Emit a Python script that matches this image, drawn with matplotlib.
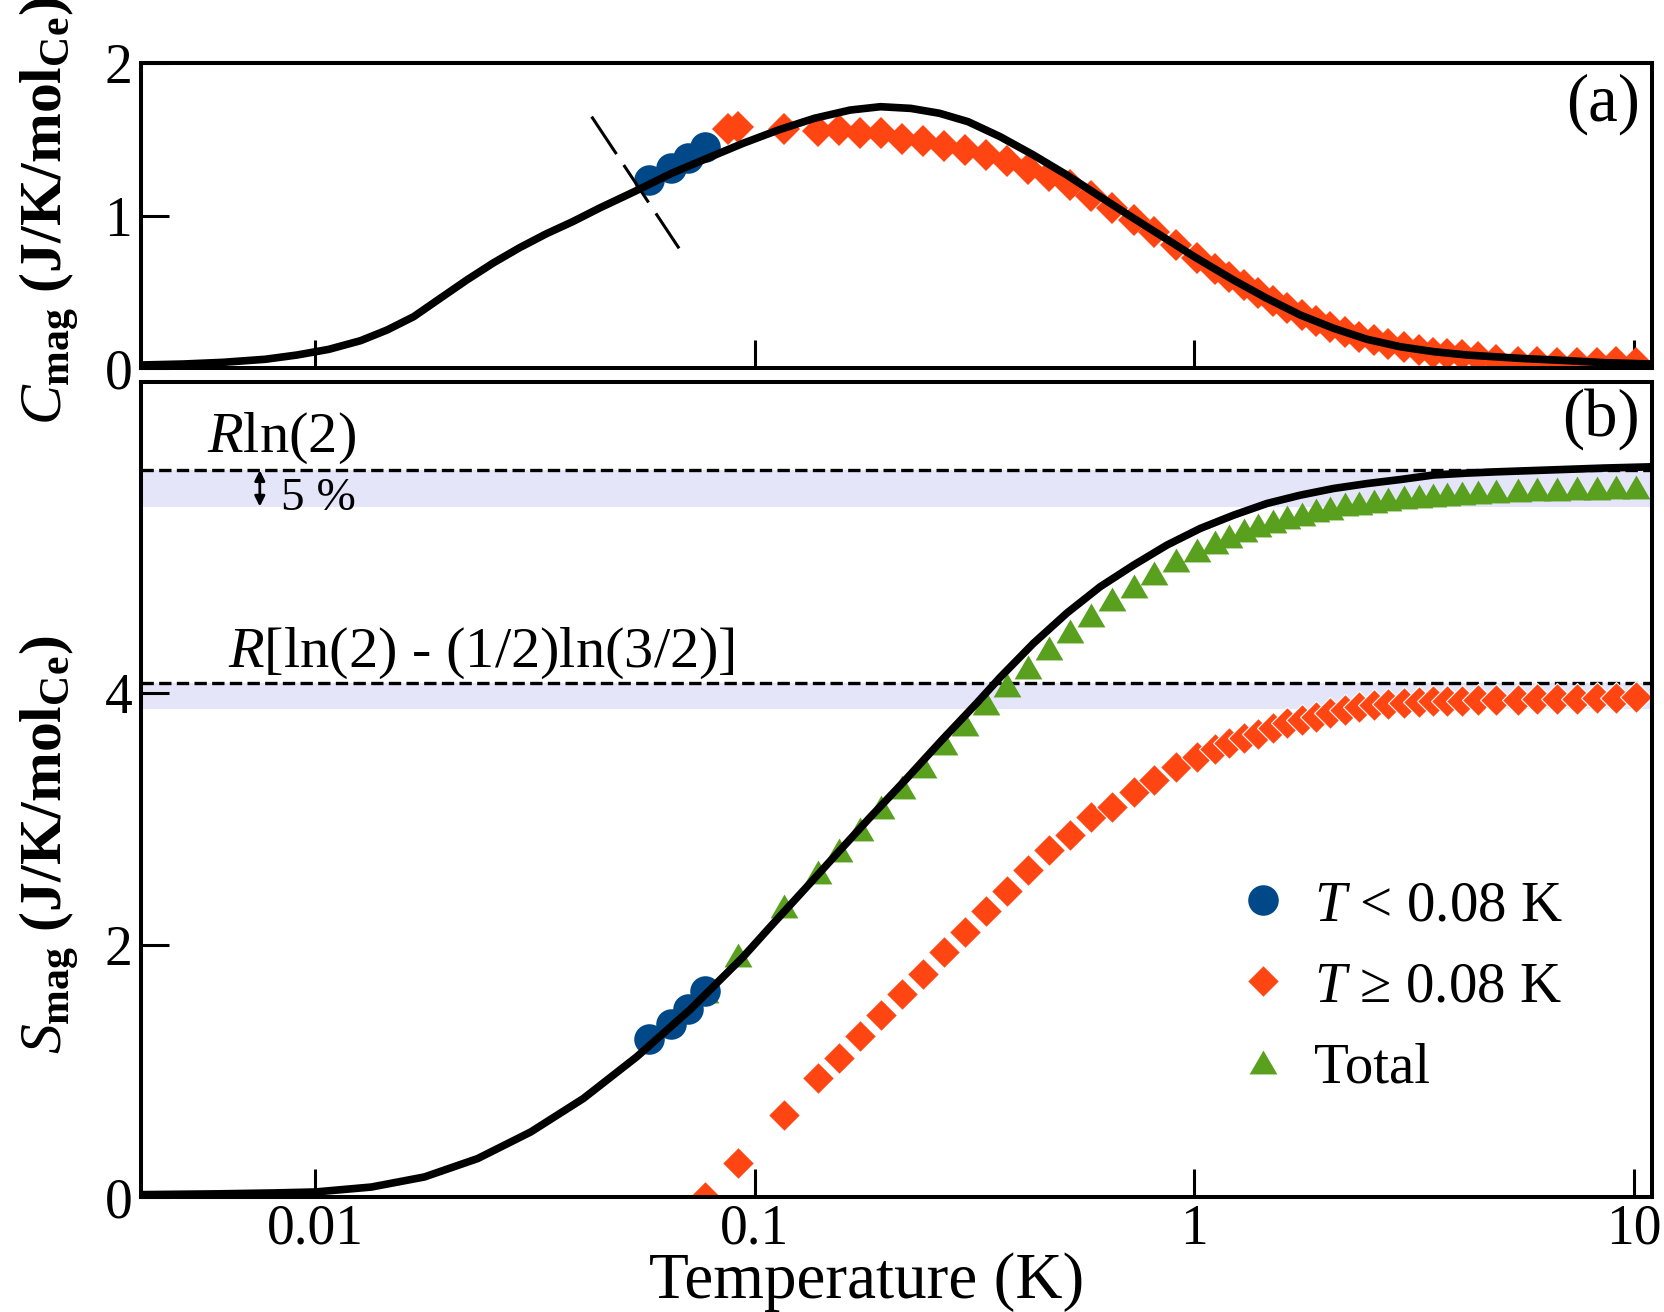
import numpy as np
import matplotlib
matplotlib.use("Agg")
import matplotlib.pyplot as plt
from matplotlib.ticker import NullLocator

plt.rcParams['font.family'] = ['Liberation Serif', 'DejaVu Serif']
plt.rcParams['mathtext.fontset'] = 'custom'
plt.rcParams['mathtext.rm'] = 'Liberation Serif'
plt.rcParams['mathtext.it'] = 'Liberation Serif:italic'
plt.rcParams['mathtext.bf'] = 'Liberation Serif:bold'

# T < 0.08 K points
T_low = [0.0575, 0.0643, 0.0706, 0.0771]
C_low = [1.232, 1.309, 1.374, 1.450]
S_low = [1.25, 1.37, 1.49, 1.63]

# T >= 0.08 K points (shared temperature grid)
T_hi = [0.0913, 0.1165, 0.139, 0.155, 0.173, 0.1936, 0.216, 0.2415, 0.269, 0.3007,
        0.336, 0.3745, 0.418, 0.466, 0.521, 0.583, 0.651, 0.727, 0.81, 0.906,
        1.012, 1.112, 1.199, 1.297, 1.399, 1.509, 1.627, 1.754, 1.892, 2.040,
        2.199, 2.372, 2.558, 2.759, 3.004, 3.238, 3.491, 3.765, 4.059, 4.420,
        4.857, 5.440, 6.032, 6.689, 7.422, 8.233, 9.130, 10.13]
C_hi = [1.577, 1.568, 1.555, 1.559, 1.542, 1.538, 1.503, 1.486, 1.455, 1.427,
        1.396, 1.355, 1.306, 1.259, 1.202, 1.128, 1.047, 0.968, 0.890, 0.807,
        0.720, 0.650, 0.600, 0.545, 0.491, 0.442, 0.393, 0.349, 0.312, 0.272,
        0.236, 0.207, 0.185, 0.159, 0.137, 0.120, 0.102, 0.092, 0.087, 0.072,
        0.054, 0.043, 0.039, 0.037, 0.033, 0.033, 0.039, 0.033]
S_hi = [0.27, 0.65, 0.94, 1.10, 1.28, 1.44, 1.61, 1.77, 1.94, 2.10,
        2.27, 2.43, 2.59, 2.75, 2.87, 3.01, 3.094, 3.213, 3.306, 3.411,
        3.491, 3.556, 3.596, 3.636, 3.675, 3.715, 3.755, 3.781, 3.808, 3.834,
        3.861, 3.887, 3.900, 3.913, 3.921, 3.926, 3.931, 3.931, 3.934, 3.937,
        3.94, 3.942, 3.945, 3.948, 3.95, 3.955, 3.96, 3.965]
S_tot = [1.92, 2.31, 2.58, 2.75, 2.92, 3.09, 3.25, 3.42, 3.60, 3.75,
         3.92, 4.06, 4.20, 4.35, 4.49, 4.616, 4.740, 4.848, 4.951, 5.049,
         5.133, 5.197, 5.242, 5.287, 5.329, 5.363, 5.395, 5.418, 5.448, 5.466,
         5.493, 5.506, 5.522, 5.538, 5.549, 5.559, 5.569, 5.577, 5.585, 5.591,
         5.599, 5.609, 5.612, 5.616, 5.62, 5.625, 5.628, 5.63]

# extra first points
T_c0, C_c0 = 0.087, 1.565
T_s0, S_hi0, S_tot0 = 0.0771, 0.0, 1.63

# model curves
T_fitC = [0.00406, 0.0050, 0.00615, 0.00768, 0.00908, 0.01072, 0.01267, 0.01456,
          0.01673, 0.01922, 0.0221, 0.0254, 0.02917, 0.0335, 0.0385, 0.0444,
          0.0535, 0.0646, 0.0778, 0.0939, 0.1132, 0.1365, 0.1646, 0.1931,
          0.2263, 0.263, 0.3055, 0.3613, 0.4302, 0.5126, 0.6104, 0.7269,
          0.8658, 1.0, 1.227, 1.462, 1.741, 2.073, 2.47, 2.941, 3.502, 4.172,
          5.515, 7.08, 8.55, 11.0]
C_fit = [0.022, 0.028, 0.039, 0.059, 0.087, 0.124, 0.181, 0.251,
         0.338, 0.458, 0.578, 0.690, 0.790, 0.880, 0.960, 1.050,
         1.160, 1.276, 1.374, 1.472, 1.560, 1.636, 1.690, 1.712,
         1.701, 1.669, 1.614, 1.516, 1.396, 1.265, 1.123, 0.982,
         0.844, 0.730, 0.578, 0.458, 0.349, 0.262, 0.190, 0.141, 0.109, 0.087,
         0.065, 0.050, 0.037, 0.028]
T_fitS = [0.00406, 0.006, 0.008, 0.0100, 0.0134, 0.0177, 0.0234, 0.0309,
          0.0407, 0.0538, 0.0710, 0.0938, 0.1082, 0.1305, 0.1516, 0.1828,
          0.2204, 0.2658, 0.3205, 0.3613, 0.4302, 0.5126, 0.6104, 0.7269,
          0.8658, 1.031, 1.227, 1.462, 1.741, 2.073, 2.47, 2.941, 3.502,
          4.172, 4.857, 5.866, 7.08, 8.55, 11.0]
S_fit = [0.019, 0.025, 0.032, 0.040, 0.079, 0.159, 0.305, 0.516,
         0.781, 1.111, 1.482, 1.90, 2.14, 2.45, 2.70, 3.01,
         3.31, 3.62, 3.92, 4.12, 4.39, 4.630, 4.839, 5.010,
         5.169, 5.301, 5.406, 5.499, 5.565, 5.618, 5.657, 5.689, 5.725,
         5.74, 5.75, 5.76, 5.77, 5.78, 5.79]

# dashed marker segment in panel (a)
T_cut = [0.0425, 0.0672]
C_cut = [1.647, 0.785]

R = 8.314
S_rln2 = R * np.log(2)
S_half = R * (np.log(2) - 0.5 * np.log(1.5))

blue = '#004887'
orange = '#ff4512'
green = '#58a01e'
band = '#e5e5fa'
tri = [(0, 0.86), (-1, -0.86), (1, -0.86), (0, 0.86)]

fig = plt.figure(figsize=(16.64, 13.12), dpi=100)
ax1 = fig.add_axes([0.0845, 0.71928, 0.9083, 0.23293])
ax2 = fig.add_axes([0.0845, 0.08765, 0.9083, 0.62096])

# panel (a)
ax1.plot(np.r_[T_c0, T_hi], np.r_[C_c0, C_hi], ls='none', marker='D', ms=15.8,
         color=orange, mew=0, zorder=2)
ax1.plot(T_low, C_low, ls='none', marker='o', ms=22, color=blue, mew=0, zorder=3)
ax1.plot(T_fitC, C_fit, color='k', lw=5.5, solid_joinstyle='round', zorder=4)
ax1.plot(T_cut, C_cut, color='k', lw=2.2, dashes=(14.7, 4.3), zorder=4)
ax1.set_ylim(0, 2)
ax1.set_yticks([0, 1, 2])
ax1.set_yticklabels(['0', '1', '2'])
ax1.text(0.992, 0.865, '(a)', transform=ax1.transAxes, ha='right', va='center',
         fontsize=48)

# panel (b)
for S_ref in (S_rln2, S_half):
    ax2.axhspan(0.95 * S_ref, S_ref, color=band, lw=0, zorder=0.5)
    ax2.axhline(S_ref, color='k', ls='--', lw=2.4, zorder=1)

ax2.plot(np.r_[T_s0, T_hi], np.r_[S_hi0, S_hi], ls='none', marker='D', ms=15.8,
         color=orange, mec='white', mew=0.8, zorder=2, label='$T$ ≥ 0.08 K')
ax2.plot(np.r_[T_s0, T_hi], np.r_[S_tot0, S_tot], ls='none', marker=tri, ms=20,
         color=green, mew=0, zorder=2, label='Total')
ax2.plot(T_low, S_low, ls='none', marker='o', ms=22, color=blue, mew=0, zorder=3,
         label='$T$ < 0.08 K')
ax2.plot(T_fitS, S_fit, color='k', lw=5.5, solid_joinstyle='round', zorder=4)
ax2.set_ylim(0, 6.46)
ax2.set_yticks([0, 2, 4])
ax2.set_yticklabels(['0', '2', '4'])
ax2.text(0.992, 0.955, '(b)', transform=ax2.transAxes, ha='right', va='center',
         fontsize=48)

ax2.text(0.00566, 5.91, '$R$ln(2)', fontsize=42, ha='left', va='baseline')
ax2.text(0.00632, 4.205, '$R$[ln(2) - (1/2)ln(3/2)]', fontsize=42, ha='left',
         va='baseline')
ax2.text(0.00834, 5.448, '5 %', fontsize=34, ha='left', va='baseline')
ax2.annotate('', xy=(0.00747, 0.95 * S_rln2), xytext=(0.00747, S_rln2),
             arrowprops=dict(arrowstyle='<|-|>,head_length=0.5,head_width=0.25',
                             color='k', lw=2, mutation_scale=12,
                             shrinkA=0, shrinkB=0))

handles, labels = ax2.get_legend_handles_labels()
order = [2, 0, 1]
ax2.legend([handles[i] for i in order], [labels[i] for i in order],
           loc='upper left', bbox_to_anchor=(0.7238, 0.389), frameon=False,
           fontsize=41, handlelength=1.0, handletextpad=0.4, labelspacing=0.51,
           borderpad=0, borderaxespad=0, numpoints=1)

for ax in (ax1, ax2):
    ax.set_xscale('log')
    ax.set_xlim(0.0040, 11.0)
    ax.set_xticks([0.01, 0.1, 1, 10])
    ax.xaxis.set_minor_locator(NullLocator())
    ax.yaxis.set_minor_locator(NullLocator())
    ax.tick_params(direction='in', length=20, width=2.2, labelsize=40,
                   top=False, right=False)
    ax.tick_params(axis='x', pad=5)
    ax.tick_params(axis='y', pad=6)
    for sp in ax.spines.values():
        sp.set_linewidth(2.9)

ax1.set_xticklabels([])
ax2.set_xticklabels(['0.01', '0.1', '1', '10'])

fig.text(0.5207, 0.011, 'Temperature (K)', fontsize=47, ha='center',
         va='baseline')
fig.text(0.030, 0.839, r'$C_{\mathbf{mag}}$ $\mathbf{(J/K/mol_{Ce})}$',
         fontsize=43, rotation=90, ha='center', va='center')
fig.text(0.030, 0.356, r'$S_{\mathbf{mag}}$ $\mathbf{(J/K/mol_{Ce})}$',
         fontsize=43, rotation=90, ha='center', va='center')

fig.savefig('out.png', dpi=100)
